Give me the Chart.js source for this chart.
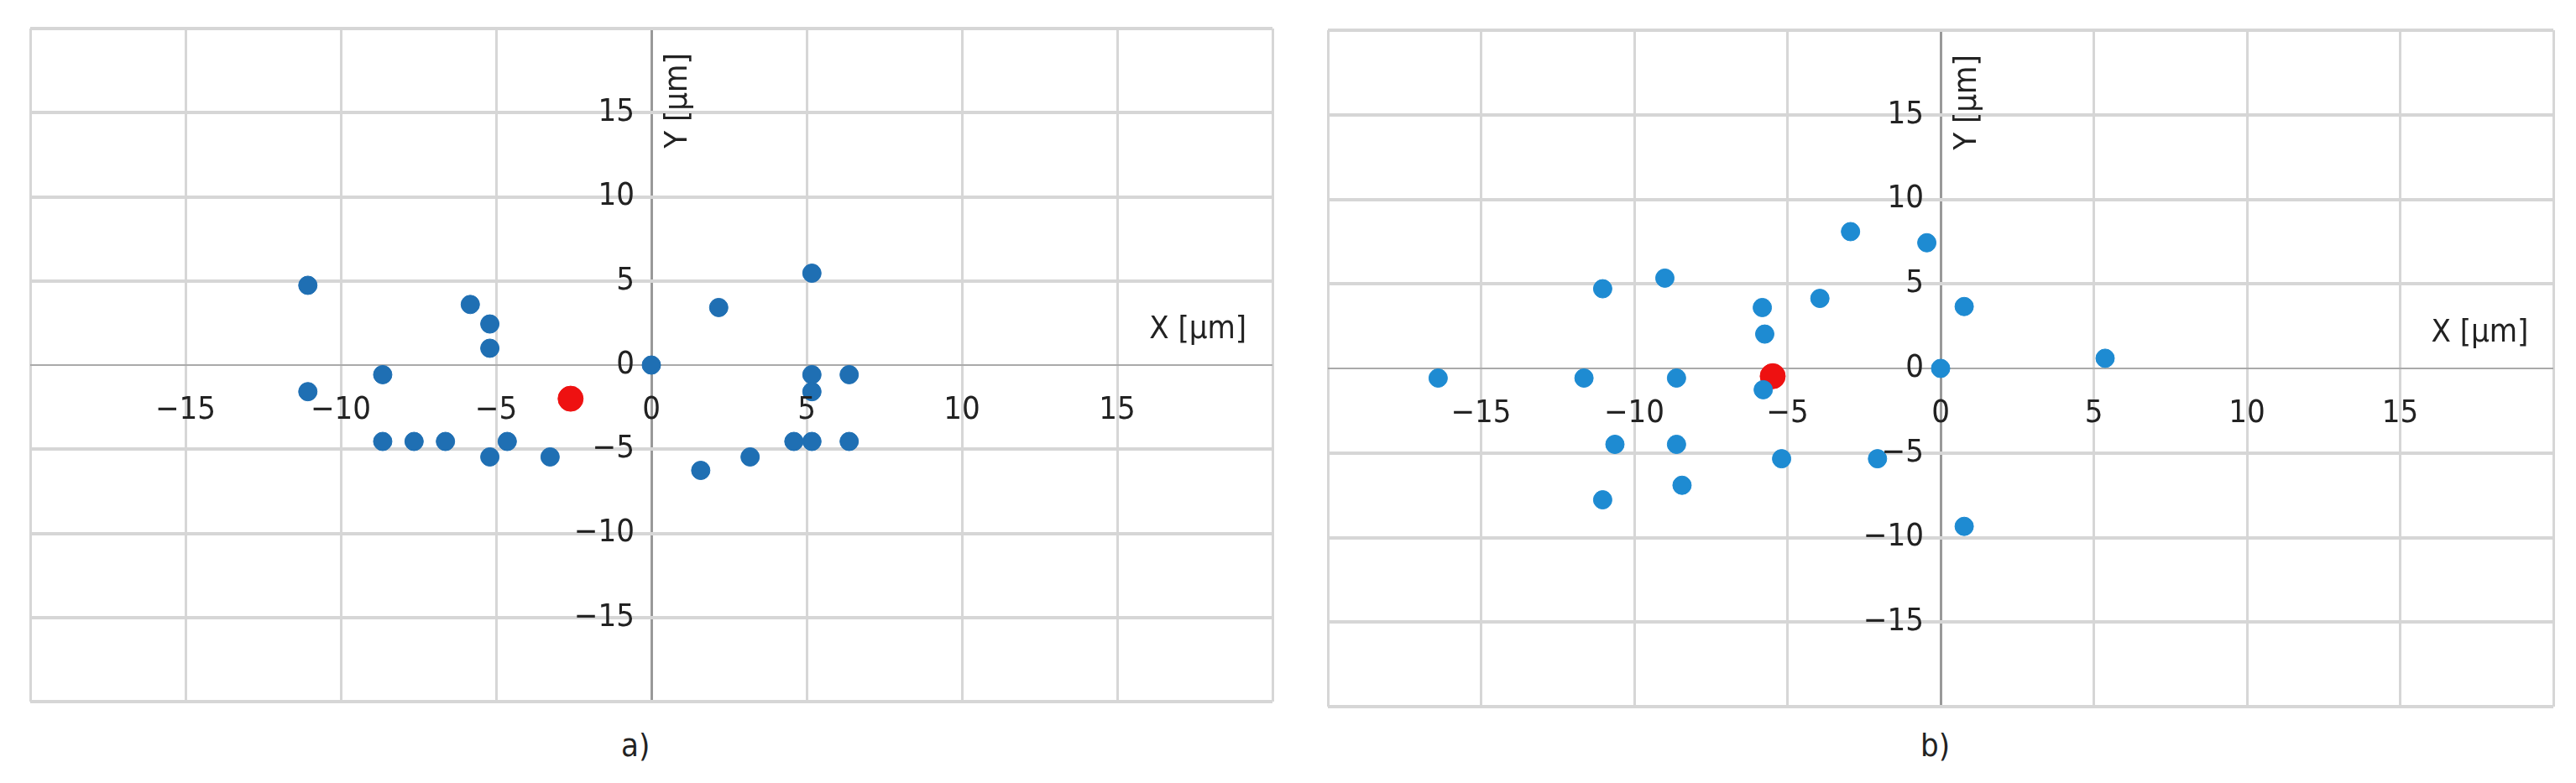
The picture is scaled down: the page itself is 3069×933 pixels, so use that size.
<!DOCTYPE html>
<html><head><meta charset="utf-8">
<script src="https://cdn.jsdelivr.net/npm/chart.js@4"></script>
<style>
body{margin:0;background:#fff;width:3069px;height:933px;position:relative;overflow:hidden;font-family:'Liberation Sans Narrow','DejaVu Sans Condensed',sans-serif}
canvas{position:absolute}
.cap{position:absolute;font-size:38px;color:#222;top:866px}
</style></head><body>
<canvas id="ca" width="1512" height="834" style="left:20px;top:18px"></canvas>
<canvas id="cb" width="1492" height="838" style="left:1566px;top:20px"></canvas>
<div class="cap" style="left:740px">a)</div>
<div class="cap" style="left:2288px">b)</div>
<script>
const tickValues=[-15,-10,-5,0,5,10,15];
const axisTitleX='X [µm]', axisTitleY='Y [µm]';
const aX=[-11.06,-5.83,-5.2,-5.2,-8.65,-11.06,0,2.17,5.17,5.17,5.17,6.37,-8.65,-7.64,-6.63,-4.64,-5.2,-3.26,1.59,3.18,4.59,5.17,6.37];
const aY=[4.74,3.6,2.44,1.0,-0.57,-1.58,0,3.42,5.46,-0.57,-1.58,-0.57,-4.54,-4.54,-4.54,-4.54,-5.46,-5.46,-6.26,-5.46,-4.54,-4.54,-4.54];
const aRedX=[-2.6], aRedY=[-2.0];
const bX=[-16.4,-11.64,-8.62,-11.03,-9.0,-10.63,-8.62,-11.03,-8.44,-5.82,-5.74,-5.79,-5.19,-3.94,-2.94,-2.06,-0.45,0,0.77,0.77,5.37];
const bY=[-0.57,-0.57,-0.57,4.71,5.34,-4.49,-4.49,-7.77,-6.91,3.6,2.03,-1.26,-5.34,4.14,8.09,-5.34,7.43,0,3.66,-9.34,0.6];
const bRedX=[-5.48], bRedY=[-0.46];
const FONT="'Liberation Sans Narrow','DejaVu Sans Condensed',sans-serif";
const pts=(xs,ys)=>xs.map((x,i)=>({x,y:ys[i]}));
const labelPlugin={id:'lbl',afterDraw(c){
  const ctx=c.ctx,sx=c.scales.x,sy=c.scales.y;
  const x0=sx.getPixelForValue(0),y0=sy.getPixelForValue(0);
  ctx.save();ctx.fillStyle='#222';ctx.font='38px '+FONT;
  ctx.textAlign='center';ctx.textBaseline='middle';
  tickValues.forEach(v=>{ctx.fillText(String(v).replace('-','\u2212'),sx.getPixelForValue(v),y0+54);});
  ctx.textAlign='right';
  tickValues.forEach(v=>{ctx.fillText(String(v).replace('-','\u2212'),x0-20,sy.getPixelForValue(v));});
  ctx.textAlign='center';
  ctx.fillText(axisTitleX,sx.getPixelForValue(17.6),y0-42);
  ctx.translate(x0+32,sy.top+86);ctx.rotate(-Math.PI/2);ctx.fillText(axisTitleY,0,0);
  ctx.restore();}};
function make(id,blue,red,col){
  new Chart(document.getElementById(id),{type:'scatter',
    data:{datasets:[
      {data:blue,backgroundColor:col,borderColor:col,pointRadius:11,pointHoverRadius:11},
      {data:red,backgroundColor:'#ee1111',borderColor:'#ee1111',pointRadius:15}]},
    options:{responsive:false,animation:false,devicePixelRatio:1,
      layout:{padding:0},
      plugins:{legend:{display:false},tooltip:{enabled:false}},
      scales:{
        x:{type:'linear',min:-20,max:20,ticks:{display:false,stepSize:5},
          grid:{drawTicks:false,lineWidth:3,color:c=>c.tick&&c.tick.value===0?'#999':'#d6d6d6'},border:{display:false}},
        y:{type:'linear',min:-20,max:20,ticks:{display:false,stepSize:5},
          grid:{drawTicks:false,lineWidth:c=>c.tick&&c.tick.value===0?2:4,color:c=>c.tick&&c.tick.value===0?'#aaa':'#d6d6d6'},border:{display:false}}}}},
    );
}
Chart.register(labelPlugin);
make('ca',pts(aX,aY),pts(aRedX,aRedY),'#1f6fb3');
make('cb',pts(bX,bY),pts(bRedX,bRedY),'#1e8bd2');
</script></body></html>
